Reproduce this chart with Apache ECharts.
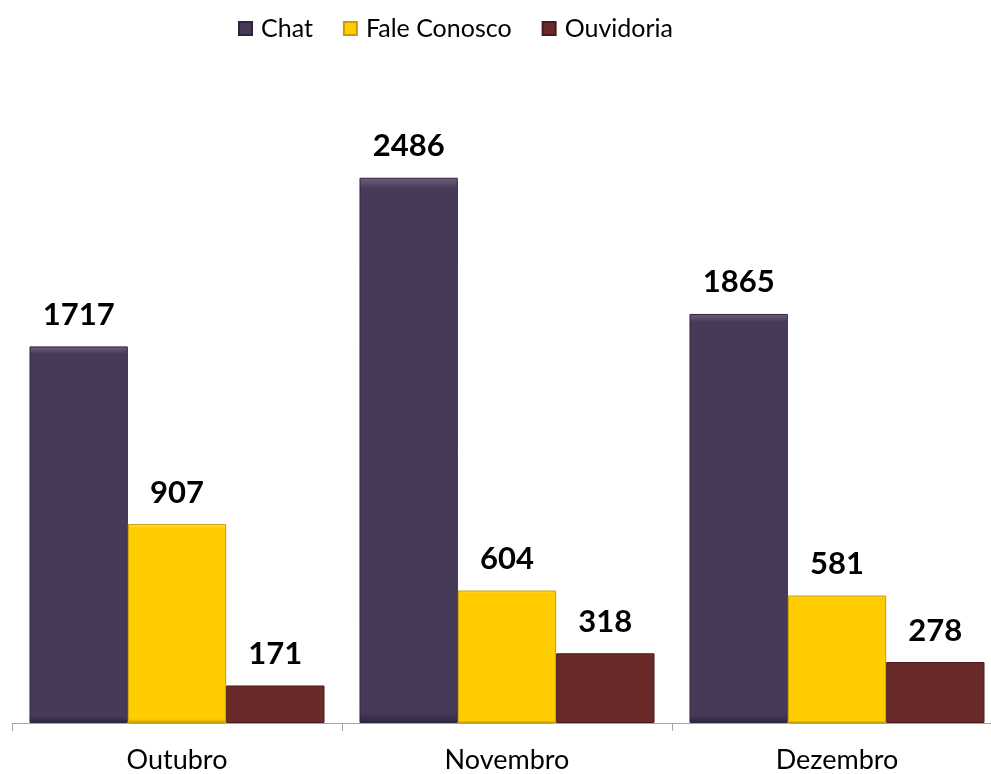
<!DOCTYPE html>
<html>
<head>
<meta charset="utf-8">
<script src="https://cdn.jsdelivr.net/npm/echarts@6/dist/echarts.min.js"></script>
<style>
  html, body { margin: 0; padding: 0; background: #fff; overflow: hidden; }
  #chart { width: 1002px; height: 774px; }
</style>
</head>
<body>
<div id="chart"></div>
<script>
const months = ['Outubro', 'Novembro', 'Dezembro'];
const chatValues = [1717, 2486, 1865];
const faleValues = [907, 604, 581];
const ouvidoriaValues = [171, 318, 278];

const fontFamily = 'Lato, "Open Sans", sans-serif';

// flat colour with a thin light top edge and darker rim, a rough stand-in for the bevel
const bevel = (base, light, dark) => ({
  color: new echarts.graphic.LinearGradient(0, 0, 0, 1, [
    { offset: 0, color: light },
    { offset: 0.02, color: base },
    { offset: 0.98, color: base },
    { offset: 1, color: dark }
  ]),
  borderColor: dark,
  borderWidth: 1
});

const barLabel = {
  show: true,
  position: 'top',
  distance: 16,
  color: '#000',
  fontFamily,
  fontWeight: 'bold',
  fontSize: 31
};

const chart = echarts.init(document.getElementById('chart'));
chart.setOption({
  animation: false,
  legend: {
    top: 11,
    left: 233,
    itemWidth: 13,
    itemHeight: 13,
    itemGap: 30,
    icon: 'rect',
    textStyle: { fontFamily, fontSize: 25, color: '#000', padding: [0, 0, 0, 4] },
    data: ['Chat', 'Fale Conosco', 'Ouvidoria']
  },
  grid: { left: 12, right: 0, top: 65, bottom: 50 },
  xAxis: {
    type: 'category',
    data: months,
    axisLine: { show: true, lineStyle: { color: '#a6a6a6', width: 1 } },
    axisTick: { show: true, length: 8, lineStyle: { color: '#a6a6a6', width: 1 } },
    axisLabel: { margin: 24, fontFamily, fontSize: 27, color: '#000' }
  },
  yAxis: {
    type: 'value',
    min: 0,
    max: 3000,
    show: false,
    splitLine: { show: false }
  },
  series: [
    {
      name: 'Chat', type: 'bar', data: chatValues,
      barGap: '0%', barCategoryGap: '10.6%',
      itemStyle: bevel('#473a58', '#6d5f80', '#2e2440'),
      label: barLabel
    },
    {
      name: 'Fale Conosco', type: 'bar', data: faleValues,
      itemStyle: bevel('#ffcc00', '#ffe566', '#c79d00'),
      label: barLabel
    },
    {
      name: 'Ouvidoria', type: 'bar', data: ouvidoriaValues,
      itemStyle: bevel('#6b2a2a', '#9a5a5a', '#4a1a1a'),
      label: barLabel
    }
  ]
});
</script>
</body>
</html>
